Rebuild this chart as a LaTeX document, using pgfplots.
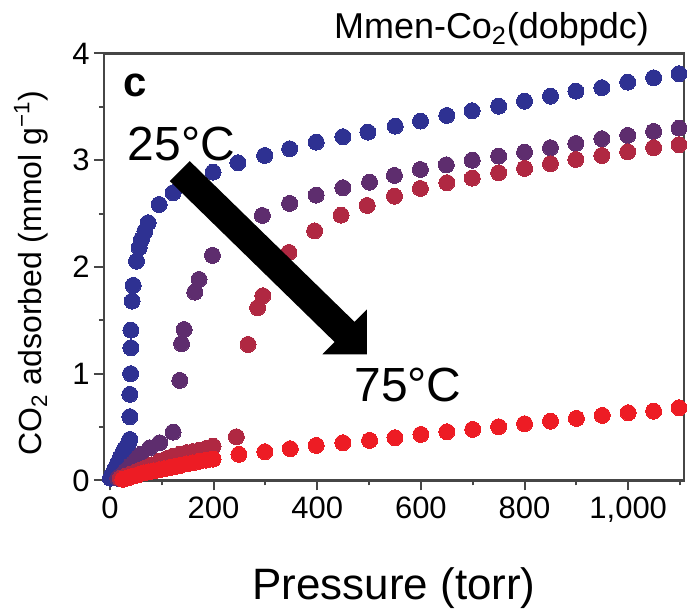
\documentclass[border=0pt]{standalone}
\usepackage{fontspec}
\setmainfont{Liberation Sans}
\usepackage{pgfplots}
\pgfplotsset{compat=1.18}

\definecolor{cA}{RGB}{46,49,146}   % 25 C
\definecolor{cB}{RGB}{94,45,110}
\definecolor{cC}{RGB}{176,40,66}
\definecolor{cD}{RGB}{237,28,36}   % 75 C
\definecolor{axgray}{RGB}{70,70,70}

\begin{document}
\begin{tikzpicture}
\begin{axis}[
    set layers,
    scale only axis,
    width=290.5pt, height=213.75pt,
    xmin=-11.6, xmax=1108,
    ymin=0, ymax=4,
    xtick={0,200,...,1000},
    minor xtick={100,300,...,1100},
    ytick={0,1,2,3,4},
    minor ytick={0.5,1.5,2.5,3.5},
    tick pos=left,
    tick align=outside,
    major tick length=5pt,
    minor tick length=2.5pt,
    tick style={axgray, line width=1pt},
    axis line style={axgray, line width=1.25pt},
    ticklabel style={font=\fontsize{15.5}{18}\selectfont, inner sep=2pt},
    xticklabel style={yshift=-1pt},
    /pgf/number format/1000 sep={,},
    /pgf/number format/assume math mode=true,
    every axis plot/.append style={only marks, mark=*, mark size=4pt, line width=0pt},
]
% 25 C
\addplot[color=cA, mark options={fill=cA, draw=cA}] coordinates {
    (1,0.02) (4,0.05) (7,0.08) (10,0.11) (13,0.14) (16,0.17) (19,0.20)
    (22,0.23) (25,0.26) (28,0.29) (31,0.31) (34,0.33) (37,0.36)
    (38.5,0.384) (38.5,0.597) (38.5,0.806) (40,1.0) (40.5,1.243) (40.5,1.408)
    (43,1.68) (45,1.827) (51.4,2.054) (56.5,2.18) (61,2.258) (67.4,2.335)
    (73.8,2.414) (95,2.585) (122,2.695) (150,2.80) (199,2.888) (247,2.976)
    (298.6,3.044) (346.8,3.107) (398,3.169) (449.5,3.220) (497.7,3.263)
    (550.5,3.319) (599.2,3.366) (649.9,3.419) (698.8,3.463) (750,3.506)
    (800,3.553) (850,3.600) (899,3.647) (949,3.679) (999,3.731)
    (1049,3.772) (1098,3.810)
};
% intermediate temperature
\addplot[color=cB, mark options={fill=cB, draw=cB}] coordinates {
    (15,0.02) (20,0.04) (25,0.06) (30,0.09) (35,0.11) (40,0.14) (45,0.16)
    (50,0.19) (55,0.22) (60,0.245) (77,0.306) (96,0.353) (122,0.452)
    (134.9,0.937) (138.2,1.281) (143.2,1.414) (163.8,1.764) (172,1.883)
    (197.9,2.108) (250,2.33) (294.2,2.482) (346.8,2.595) (398,2.673)
    (449.5,2.742) (501,2.794) (549,2.857) (599,2.913) (649,2.957) (699,3.0)
    (750,3.038) (800,3.075) (850,3.117) (899,3.157) (949,3.201) (999,3.232)
    (1049,3.269) (1098,3.300)
};
% higher temperature
\addplot[color=cC, mark options={fill=cC, draw=cC}] coordinates {
    (20,0.02) (30,0.04) (40,0.06) (50,0.08) (60,0.10) (70,0.12) (80,0.145)
    (96,0.18) (110,0.205) (122,0.228) (135,0.245) (148,0.26) (160,0.27)
    (173,0.285) (186,0.30) (199,0.321) (244,0.409)
    (266.5,1.274) (285,1.618) (295,1.730) (345.5,2.136) (395,2.338)
    (446,2.485) (496.5,2.576) (549,2.663) (599,2.735) (650,2.789) (699,2.832)
    (750,2.882) (800,2.923) (850,2.967) (899,3.007) (949,3.044) (999,3.079)
    (1049,3.117) (1098,3.145)
};
% 75 C
\addplot[color=cD, mark options={fill=cD, draw=cD}] coordinates {
    (25,0.01) (35,0.025) (45,0.04) (55,0.055) (65,0.07) (75,0.08) (85,0.09)
    (95,0.10) (105,0.11) (115,0.12) (125,0.13) (135,0.14) (148,0.155)
    (160,0.165) (173,0.18) (186,0.19) (199,0.20) (249,0.244) (299,0.269)
    (348,0.297) (398,0.328) (449.5,0.353) (501,0.375) (550,0.400) (600,0.431)
    (650,0.456) (700,0.478) (750,0.503) (800,0.531) (850,0.555) (900,0.581)
    (950,0.609) (1000,0.634) (1049,0.649) (1098,0.681)
};
% big arrow from 25 C to 75 C, above the points
\begin{pgfonlayer}{axis foreground}
\fill[black] (axis cs:154.1,2.991) -- (axis cs:472.1,1.485) -- (axis cs:495.8,1.602)
    -- (axis cs:495.8,1.180) -- (axis cs:409.8,1.180) -- (axis cs:433.5,1.297)
    -- (axis cs:115.6,2.804) -- cycle;
\node[inner sep=0pt, font=\fontsize{24}{28}\selectfont] at (axis cs:137.7,3.152) {25°C};
\node[inner sep=0pt, font=\fontsize{24}{28}\selectfont] at (axis cs:575,0.89) {75°C};
\node[inner sep=0pt, font=\fontsize{21}{24}\selectfont\bfseries] at (axis cs:47.8,3.70) {c};
\end{pgfonlayer}
\coordinate (SW) at (rel axis cs:0,0);
\coordinate (NE) at (rel axis cs:1,1);
\coordinate (W) at (rel axis cs:0,0.5);
\coordinate (S) at (rel axis cs:0.5,0);
\coordinate (T) at (rel axis cs:0.668,1);
\end{axis}
\node[anchor=base, font=\fontsize{22}{26}\selectfont] at ([yshift=-59.5pt]S) {Pressure (torr)};
\node[anchor=base, rotate=90, font=\fontsize{16}{20}\selectfont] at ([shift={(-31pt,-3pt)}]W)
    {CO\textsubscript{2} adsorbed (mmol g\textsuperscript{−1})};
\node[anchor=base, font=\fontsize{18}{22}\selectfont] at ([yshift=7.25pt]T) {Mmen-Co\textsubscript{2}(dobpdc)};
\useasboundingbox ([shift={(-52pt,-64pt)}]SW) rectangle ([shift={(1pt,26.75pt)}]NE);
\end{tikzpicture}
\end{document}
